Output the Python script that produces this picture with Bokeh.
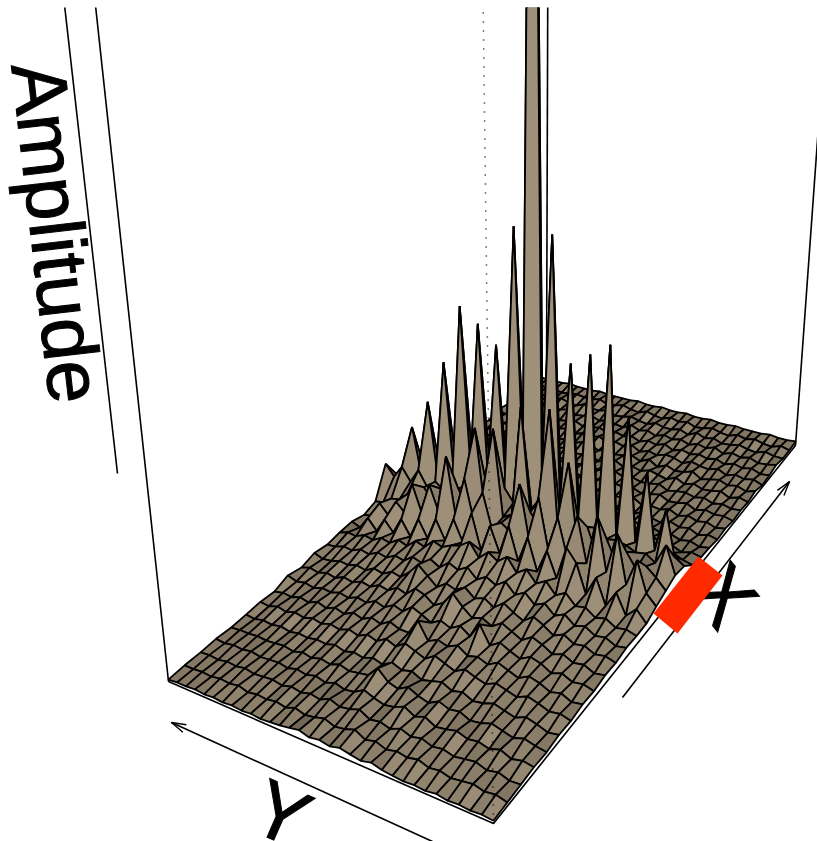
import numpy as np
from bokeh.plotting import figure
from bokeh.models import Range1d
from bokeh.core.properties import value
from bokeh.embed import file_html
from bokeh.resources import INLINE

# Amplitude, row = position along X (front to back), column = position along Y
Z00 = [3,4,3,4,3,5,3,4,3,4,5,8,5,7,9,6,8,6,9,7,5,4,3,4,3,4,3,4,3,4,3,3,2]
Z01 = [4,7,5,8,6,4,7,5,9,6,8,5,9,6,12,8,6,10,7,5,8,4,6,4,5,3,6,4,5,3,4,3,3]
Z02 = [5,4,8,5,9,7,5,8,6,10,7,11,6,9,7,13,9,7,11,6,8,5,7,4,6,5,4,6,4,5,3,4,3]
Z03 = [6,8,5,10,6,9,7,11,8,6,12,8,14,9,7,10,14,8,6,9,5,8,5,7,4,6,5,4,6,4,5,3,4]
Z04 = [5,7,10,6,9,12,8,6,11,9,13,7,10,15,9,12,22,11,9,7,10,6,8,5,7,4,6,5,4,5,4,4,3]
Z05 = [7,5,9,12,7,10,13,9,7,12,9,14,11,8,13,10,14,8,11,7,9,6,9,6,7,5,6,4,6,4,5,3,4]
Z06 = [6,9,7,11,14,9,12,15,10,13,17,11,15,19,12,16,20,13,17,11,14,9,12,8,10,7,9,6,8,5,7,4,5]
Z07 = [8,6,11,8,13,16,10,14,18,12,16,13,20,15,18,13,30,14,14,18,12,15,10,13,8,11,7,10,6,8,5,6,4]
Z08 = [7,10,8,13,9,15,18,12,16,21,14,32,16,23,17,21,15,20,24,16,19,13,16,11,13,9,11,8,9,6,8,6,9]
Z09 = [9,7,12,10,15,11,17,21,14,19,24,17,22,18,26,36,23,17,24,27,18,21,15,17,12,14,10,12,8,10,7,9,6]
Z10 = [8,11,9,14,12,18,13,20,25,17,22,28,20,26,22,30,24,27,20,28,36,25,17,19,14,16,11,13,10,11,8,7,10]
Z11 = [10,8,13,11,17,14,22,17,26,21,30,24,34,27,32,26,35,29,33,25,30,23,26,19,21,16,18,13,15,11,12,9,8]
Z12 = [9,12,10,16,13,20,18,28,22,33,27,38,31,44,36,42,33,46,39,36,31,34,25,28,20,23,17,19,14,16,12,13,10]
Z13 = [9,20,10,30,13,38,18,46,58,24,48,24,55,28,60,30,54,26,60,28,48,24,42,20,36,16,30,14,24,10,20,8,11]
Z14 = [14,24,54,26,74,32,85,34,78,34,70,36,84,38,91,40,46,36,70,38,78,34,94,36,60,30,55,24,32,16,25,10,8]
Z15 = [18,28,36,30,44,30,50,32,56,34,114,36,161,40,52,154,44,38,123,38,118,36,52,34,46,30,42,26,30,22,20,14,12]
Z16 = [22,49,28,34,32,36,38,36,44,38,46,38,50,40,56,42,60,42,54,40,50,38,46,34,42,32,38,30,44,30,42,30,40]
Z17 = [20,26,70,26,101,28,150,30,216,32,200,34,185,36,307,44,1250,46,303,38,180,34,195,32,207,30,146,28,102,26,72,22,20]
Z18 = [10,12,16,14,20,18,26,22,32,24,30,24,34,26,42,30,52,32,40,28,32,26,34,24,30,22,28,20,24,18,22,14,12]
Z19 = [7,9,6,10,8,13,9,15,11,14,10,16,12,18,14,20,16,22,17,19,14,16,12,15,11,13,9,12,8,10,7,9,6]
Z20 = [6,4,7,5,8,6,9,7,10,8,11,7,12,9,13,10,14,9,12,8,11,7,10,6,9,5,8,4,7,5,6,4,5]
Z21 = [4,6,3,7,5,8,4,6,9,5,7,4,8,6,10,7,5,9,6,8,4,7,5,8,4,6,3,7,5,4,6,3,4]
Z22 = [5,3,6,4,7,4,8,5,6,4,9,6,5,8,6,9,5,7,4,8,6,5,7,4,6,5,4,6,3,5,4,5,3]
Z23 = [3,5,4,6,3,7,5,4,8,6,4,7,5,6,8,5,7,4,6,5,7,4,6,5,3,6,4,5,4,3,5,3,4]
Z24 = [4,3,5,3,6,4,6,5,3,7,5,4,6,4,7,5,4,6,5,3,6,4,3,5,4,3,5,3,4,5,3,4,3]
Z25 = [3,5,2,6,4,3,6,3,7,3,5,7,4,6,3,7,4,2,6,4,3,6,4,3,6,4,2,5,3,2,5,3,3]
Z26 = [5,2,5,3,6,4,2,7,4,3,6,2,7,3,6,4,3,6,2,5,6,3,5,2,5,3,5,2,5,3,3,5,2]
Z27 = [2,5,3,5,2,6,3,4,6,2,5,6,3,5,2,6,3,5,2,6,3,5,2,5,3,5,3,2,5,3,2,3,5]
Z28 = [3,2,5,3,5,2,5,3,5,3,5,2,6,3,5,2,5,3,5,2,5,3,2,5,3,2,5,3,2,5,3,2,3]
Z29 = [5,3,2,5,3,5,2,6,3,5,2,5,3,5,2,5,3,6,2,3,5,2,5,3,2,5,3,2,5,3,2,5,3]
Z30 = [3,3,5,2,3,5,3,2,5,3,6,2,5,3,3,5,2,3,5,3,2,5,3,3,5,2,3,5,2,3,5,2,3]
Z31 = [3,5,2,3,5,3,5,2,3,5,3,2,5,3,5,2,3,5,2,3,5,3,2,5,3,3,4,3,2,3,3,4,3]
Z32 = [4,3,3,4,3,3,3,4,3,3,4,3,3,4,3,3,4,3,3,4,3,3,3,3,4,3,3,3,4,3,3,3,3]
ROWS = [Z00,Z01,Z02,Z03,Z04,Z05,Z06,Z07,Z08,Z09,Z10,Z11,Z12,Z13,Z14,Z15,Z16,
        Z17,Z18,Z19,Z20,Z21,Z22,Z23,Z24,Z25,Z26,Z27,Z28,Z29,Z30,Z31,Z32]
AXIS_TITLES = ["Amplitude", "Y", "X"]

# View geometry (page pixels): the floor's corners and the point verticals converge to
F, R, L, B = (493, 823), (795, 445), (168, 681), (540, 380)
BOX_BACK = (546, 381)
NADIR = np.array([534.0, 4070.0])
Z_SCALE = 3500.0
W, H = 817, 841
TOP_CLIP = 7
LIGHT, DARK = (158, 144, 121), 0.84

sx = F[0]-R[0]+B[0]-L[0]; sy = F[1]-R[1]+B[1]-L[1]
dx1, dx2, dy1, dy2 = R[0]-B[0], L[0]-B[0], R[1]-B[1], L[1]-B[1]
den = dx1*dy2 - dx2*dy1
g = (sx*dy2 - dx2*sy)/den
h = (dx1*sy - sx*dy1)/den
a, b, c = R[0]-F[0]+g*R[0], L[0]-F[0]+h*L[0], F[0]
d, e, f = R[1]-F[1]+g*R[1], L[1]-F[1]+h*L[1], F[1]

def project(u, v, z=0.0):
    D = g*u + h*v + 1
    base = np.array([(a*u + b*v + c)/D, (d*u + e*v + f)/D])
    return NADIR + (base - NADIR)*(1 + z/Z_SCALE)

Z = np.array(ROWS, dtype=float)
n_x, n_y = Z.shape
P = np.array([[project(i/(n_x-1), j/(n_y-1), Z[i, j]) for j in range(n_y)] for i in range(n_x)])

xs, ys, colors = [], [], []
for i in range(n_x-2, -1, -1):
    for j in range(n_y-2, -1, -1):
        q = [P[i, j], P[i+1, j], P[i+1, j+1], P[i, j+1]]
        xs.append([float(p[0]) for p in q])
        ys.append([float(p[1]) for p in q])
        di = (Z[i+1, j] + Z[i+1, j+1] - Z[i, j] - Z[i, j+1])/2
        dj = (Z[i, j+1] + Z[i+1, j+1] - Z[i, j] - Z[i+1, j])/2
        s = DARK + (0.13*di + 0.10*dj)/np.sqrt(6 + di*di + dj*dj)
        s = min(max(s, 0.72), 1.0)
        colors.append("#%02x%02x%02x" % tuple(int(k*s) for k in LIGHT))

# the frame starts just below the page top, which cuts the box and the tallest peak
p = figure(width=W, height=H, output_backend="svg", toolbar_location=None,
           x_range=Range1d(0, W), y_range=Range1d(H, TOP_CLIP), min_border=0, min_border_top=TOP_CLIP,
           x_axis_location=None, y_axis_location=None, outline_line_color=None)
p.grid.visible = False

def line(pts, width=1.5, **kw):
    p.line([float(q[0]) for q in pts], [float(q[1]) for q in pts], line_color="black", line_width=width, **kw)

def up(corner, z):
    return NADIR + (np.array(corner, float) - NADIR)*(1 + z/Z_SCALE)

# box: floor and rear verticals
line([L, F, R], 1.6)
line([L, B, R], 1.0)
line([L, up(L, 700)], 1.6)
line([R, up(R, 700)], 1.6)
line([BOX_BACK, up(BOX_BACK, 700)], 1.6)

p.patches(xs, ys, fill_color=colors, line_color="black", line_width=1.8)

# dotted front vertical
line([F, up(F, 900)], 1.5, line_dash="1 8")

def arrow(start, tip, size=15, spread=0.28):
    start, tip = np.array(start, float), np.array(tip, float)
    t = (start - tip)/np.linalg.norm(start - tip)
    for sgn in (-1, 1):
        c0, s0 = np.cos(sgn*spread), np.sin(sgn*spread)
        barb = tip + size*np.array([c0*t[0]-s0*t[1], s0*t[0]+c0*t[1]])
        line([tip, barb], 1.4)
    line([start, tip], 1.6)

arrow((622, 697), (789, 481))
arrow((432, 841), (171, 722))
line([(117, 473), (63.5, 0)], 1.6)

font = value("Liberation Sans")
p.text([57], [232], text=[AXIS_TITLES[0]], angle=-83.5, angle_units="deg", text_font=font,
       text_font_size=value("77px"), text_align="center", text_baseline="middle", text_color="black",
       text_outline_color="black")
p.text([281], [813], text=[AXIS_TITLES[1]], angle=-23.6, angle_units="deg", text_font=font,
       text_font_size=value("80px"), text_align="center", text_baseline="middle", text_color="black",
       text_outline_color="black")
p.text([723], [595], text=[AXIS_TITLES[2]], angle=-51, angle_units="deg", text_font=font,
       text_font_size=value("80px"), text_align="center", text_baseline="middle", text_color="black",
       text_outline_color="black")

# red marker on the X edge
p.patch([698, 722, 677, 653], [556, 575, 633, 613], fill_color="#ff2a00", line_color=None)

open("out.html", "w").write(file_html(p, INLINE))
